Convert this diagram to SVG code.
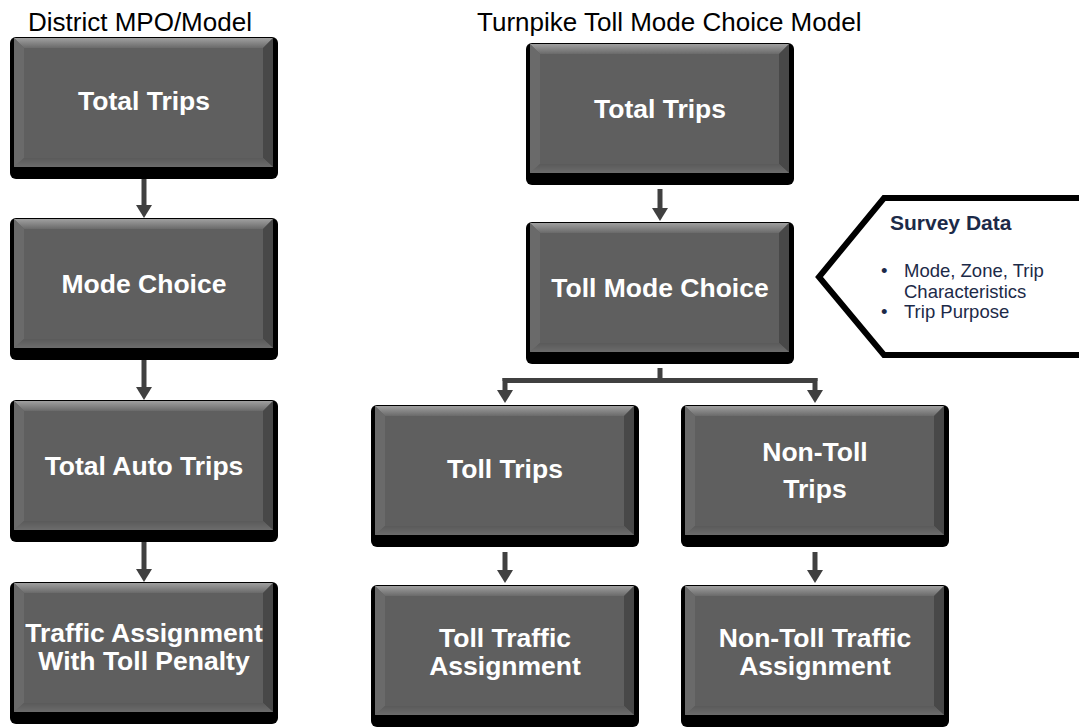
<svg xmlns="http://www.w3.org/2000/svg" xmlns:xlink="http://www.w3.org/1999/xlink" width="1079" height="728" viewBox="0 0 1079 728">
<style>
.title{font-family:"Liberation Sans",Arial,sans-serif;font-size:26px;fill:#000}
.bt{font-family:"Liberation Sans",Arial,sans-serif;font-size:26.5px;font-weight:bold;fill:#fff;text-anchor:middle}
.conn{stroke:#404040;stroke-width:5;fill:none}
.sh{font-family:"Liberation Sans",Arial,sans-serif;font-size:21px;font-weight:bold;fill:#1c2a48}
.sb{font-family:"Liberation Sans",Arial,sans-serif;font-size:18.5px;fill:#1c2a48}
</style>
<defs>
<linearGradient id="gTop" x1="0" y1="0" x2="0" y2="1">
<stop offset="0" stop-color="#a0a0a0"/>
<stop offset="1" stop-color="#6a6a6a"/>
</linearGradient>
<linearGradient id="gBot" x1="0" y1="0" x2="0" y2="1">
<stop offset="0" stop-color="#5a5a5a"/>
<stop offset="1" stop-color="#6c6c6c"/>
</linearGradient>
<g id="box">
<rect x="0" y="0" width="268" height="142" rx="6" fill="#000"/>
<rect x="4" y="1" width="259" height="129" fill="#5f5f5f"/>
<polygon points="4,1 263,1 253,11 14,11" fill="url(#gTop)"/>
<polygon points="4,1 14,11 14,121 4,130" fill="#6a6a6a"/>
<polygon points="263,1 263,130 253,121 253,11" fill="#484848"/>
<polygon points="4,130 14,121 253,121 263,130" fill="url(#gBot)"/>
</g>
<marker id="ah" viewBox="0 0 13 16" markerWidth="13" markerHeight="16" refX="0" refY="8" orient="auto" markerUnits="userSpaceOnUse">
<path d="M0,0 L13,8 L0,16 z" fill="#404040"/>
</marker>
</defs>
<rect width="1079" height="728" fill="#fff"/>
<text class="title" x="28" y="31">District MPO/Model</text>
<text class="title" x="477" y="31">Turnpike Toll Mode Choice Model</text>

<g id="connectors">
<line class="conn" x1="144" y1="178" x2="144" y2="205" marker-end="url(#ah)"/>
<line class="conn" x1="144" y1="360" x2="144" y2="387" marker-end="url(#ah)"/>
<line class="conn" x1="144" y1="542" x2="144" y2="569" marker-end="url(#ah)"/>
<line class="conn" x1="660" y1="189" x2="660" y2="208" marker-end="url(#ah)"/>
<line class="conn" x1="660" y1="368" x2="660" y2="381"/>
<polyline class="conn" points="505,381 505,380.5 815,380.5 815,381" stroke-linejoin="miter"/>
<line class="conn" x1="505" y1="378" x2="505" y2="390" marker-end="url(#ah)"/>
<line class="conn" x1="815" y1="378" x2="815" y2="390" marker-end="url(#ah)"/>
<line class="conn" x1="505" y1="552" x2="505" y2="570" marker-end="url(#ah)"/>
<line class="conn" x1="815" y1="552" x2="815" y2="570" marker-end="url(#ah)"/>
</g>

<g id="l-total-trips"><use xlink:href="#box" x="10" y="37"/><text class="bt" x="144" y="110">Total Trips</text></g>
<g id="l-mode-choice"><use xlink:href="#box" x="10" y="218"/><text class="bt" x="144" y="292.5">Mode Choice</text></g>
<g id="l-total-auto"><use xlink:href="#box" x="10" y="400"/><text class="bt" x="144" y="474.5">Total Auto Trips</text></g>
<g id="l-traffic-assign"><use xlink:href="#box" x="10" y="582"/><text class="bt" x="144" y="641.5">Traffic Assignment</text><text class="bt" x="144" y="669.5">With Toll Penalty</text></g>

<g id="r-total-trips"><use xlink:href="#box" x="526" y="43"/><text class="bt" x="660" y="118">Total Trips</text></g>
<g id="r-toll-mode"><use xlink:href="#box" x="526" y="222"/><text class="bt" x="660" y="297">Toll Mode Choice</text></g>
<g id="toll-trips"><use xlink:href="#box" x="371" y="405"/><text class="bt" x="505" y="478">Toll Trips</text></g>
<g id="nontoll-trips"><use xlink:href="#box" x="681" y="405"/><text class="bt" x="815" y="461">Non-Toll</text><text class="bt" x="815" y="498">Trips</text></g>
<g id="toll-assign"><use xlink:href="#box" x="371" y="585"/><text class="bt" x="505" y="647">Toll Traffic</text><text class="bt" x="505" y="675">Assignment</text></g>
<g id="nontoll-assign"><use xlink:href="#box" x="681" y="585"/><text class="bt" x="815" y="647">Non-Toll Traffic</text><text class="bt" x="815" y="675">Assignment</text></g>

<g id="survey-data">
<polygon points="1090,198 884,198 819,277 884,355 1090,355" fill="#fff" stroke="#000" stroke-width="6" stroke-linejoin="miter"/>
<text class="sh" x="890" y="230">Survey Data</text>
<text class="sb" x="881" y="277">•</text>
<text class="sb" x="904" y="277">Mode, Zone, Trip</text>
<text class="sb" x="904" y="298">Characteristics</text>
<text class="sb" x="881" y="318">•</text>
<text class="sb" x="904" y="318">Trip Purpose</text>
</g>
</svg>
